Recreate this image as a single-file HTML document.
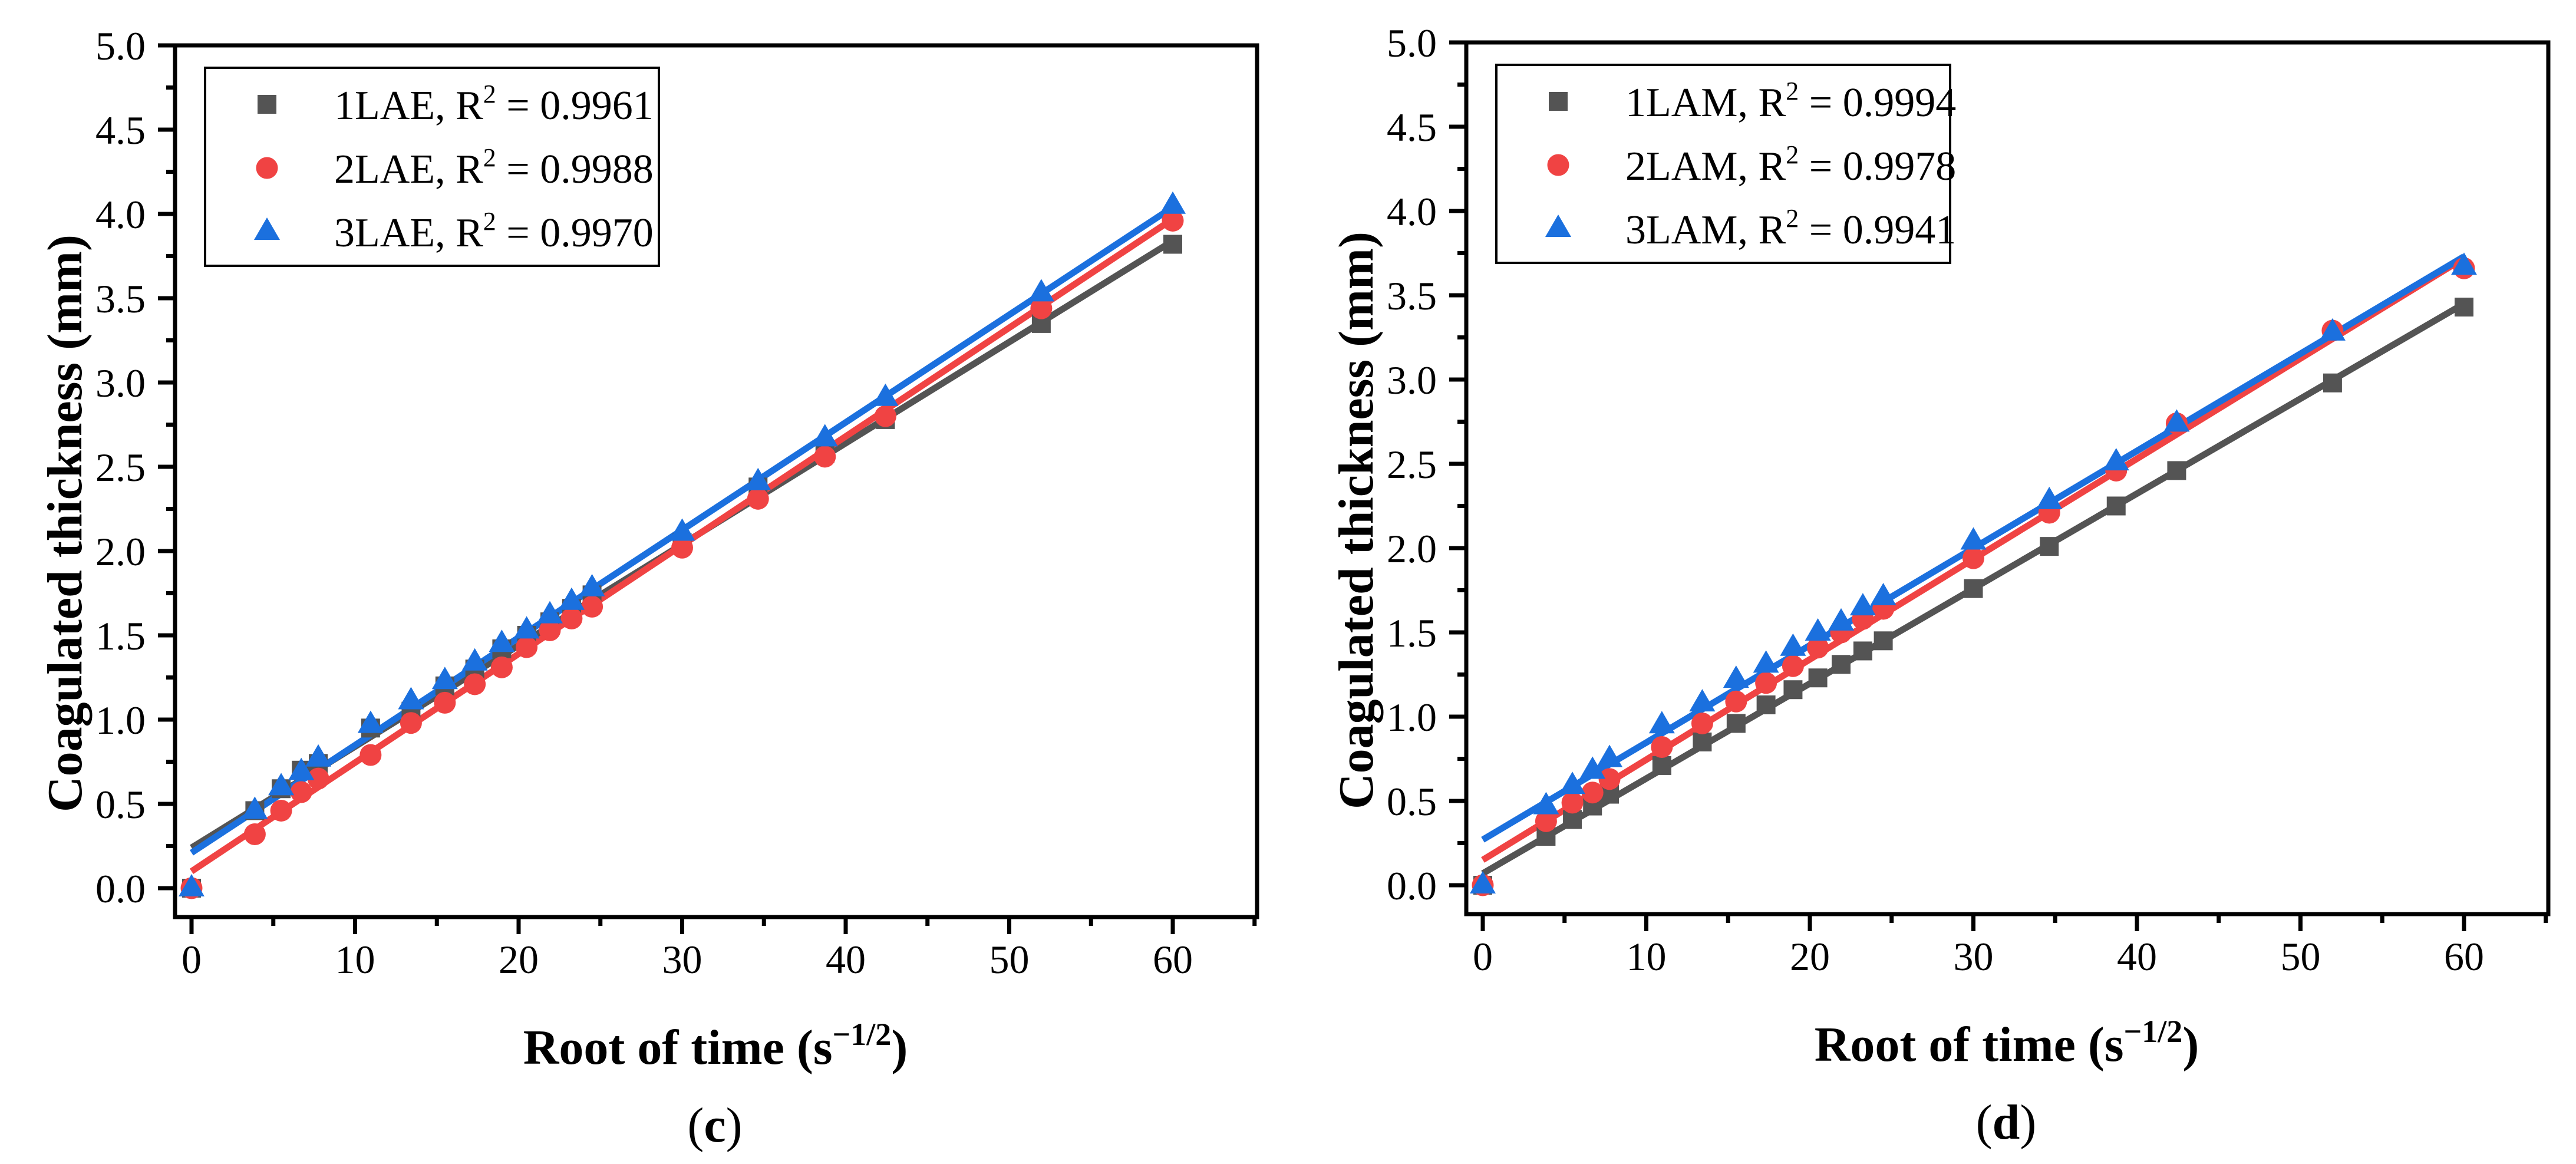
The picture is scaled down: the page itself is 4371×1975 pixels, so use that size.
<!DOCTYPE html>
<html><head><meta charset="utf-8"><style>
html,body{margin:0;padding:0;background:#fff;}
svg{display:block;}
text{font-family:"Liberation Serif",serif;fill:#000;}
</style></head><body>
<svg id="chart" width="4371" height="1975" viewBox="0 0 4371 1975" xmlns="http://www.w3.org/2000/svg"></svg>
<script>
const xValues = [0, 3.87, 5.48, 6.71, 7.75, 10.95, 13.42, 15.49, 17.32, 18.97, 20.49, 21.91, 23.24, 24.49, 30, 34.64, 38.73, 42.43, 51.96, 60];
const c1LAE = [0, 0.46, 0.59, 0.70, 0.74, 0.95, 1.05, 1.20, 1.30, 1.42, 1.50, 1.58, 1.66, 1.74, 2.05, 2.38, 2.58, 2.78, 3.35, 3.82];
const c2LAE = [0, 0.32, 0.46, 0.57, 0.65, 0.79, 0.98, 1.10, 1.21, 1.31, 1.43, 1.53, 1.60, 1.67, 2.02, 2.31, 2.56, 2.80, 3.44, 3.96];
const c3LAE = [0, 0.46, 0.60, 0.69, 0.77, 0.97, 1.11, 1.23, 1.34, 1.45, 1.53, 1.62, 1.70, 1.78, 2.11, 2.41, 2.67, 2.91, 3.53, 4.05];
const d1LAM = [0, 0.29, 0.39, 0.47, 0.54, 0.71, 0.85, 0.96, 1.07, 1.16, 1.23, 1.31, 1.39, 1.45, 1.76, 2.01, 2.25, 2.46, 2.98, 3.43];
const d2LAM = [0, 0.38, 0.49, 0.55, 0.63, 0.82, 0.96, 1.09, 1.20, 1.30, 1.41, 1.50, 1.58, 1.64, 1.94, 2.21, 2.46, 2.74, 3.29, 3.66];
const d3LAM = [0, 0.47, 0.59, 0.68, 0.75, 0.95, 1.08, 1.22, 1.31, 1.41, 1.50, 1.56, 1.65, 1.71, 2.04, 2.28, 2.51, 2.74, 3.28, 3.67];
const fitC = [[0.24, 3.84], [0.10, 3.97], [0.21, 4.04]];
const fitD = [[0.07, 3.45], [0.15, 3.72], [0.27, 3.73]];
const legendC = ["1LAE", "2LAE", "3LAE"];
const legendD = ["1LAM", "2LAM", "3LAM"];
const r2C = ["0.9961", "0.9988", "0.9970"];
const r2D = ["0.9994", "0.9978", "0.9941"];
const xTicks = [0, 10, 20, 30, 40, 50, 60];
const yTicks = ["0.0","0.5","1.0","1.5","2.0","2.5","3.0","3.5","4.0","4.5","5.0"];
const panelLabels = ["(c)", "(d)"];

const NS = "http://www.w3.org/2000/svg";
const svg = document.getElementById("chart");
const colors = ["#545454", "#f04343", "#1b70de"];
function mk(tag, attrs, parent) {
  const e = document.createElementNS(NS, tag);
  for (const k in attrs) e.setAttribute(k, attrs[k]);
  (parent || svg).appendChild(e);
  return e;
}

function drawPanel(dx, dy, series, fits, names, r2s, label, pname) {
  const g = mk("g", {});
  
  
  const X0 = 325 + dx, XS = 27.75;
  const Y0 = 1507 + dy, YS = 286;
  const sx = v => X0 + v * XS;
  const sy = v => Y0 - v * YS;
  const L = 297 + dx, T = 77 + dy, B = 1556 + dy;
  const right = dx ? 4324 : 2133;
  const fr = mk("rect", {x: L, y: T, width: right - L, height: B - T, fill: "none", stroke: "#000", "stroke-width": 7}, g);
  
  
  for (let i = 0; i <= 20; i++) {
    const v = i * 0.25;
    const y = sy(v);
    const major = i % 2 === 0;
    const t = mk("line", {x1: L - (major ? 29 : 15), x2: L, y1: y, y2: y, stroke: "#000", "stroke-width": 7}, g);
    
    
  }
  yTicks.forEach((lab, i) => {
    const t = mk("text", {x: L - 50, y: sy(parseFloat(lab)) + 24, "font-size": 68, "text-anchor": "end"}, g);
    t.textContent = lab;
    
    
  });
  for (let v = 0; v <= 65; v += 5) {
    const major = v % 10 === 0;
    const t = mk("line", {x1: sx(v), x2: sx(v), y1: B, y2: B + (major ? 29 : 15), stroke: "#000", "stroke-width": 7}, g);
    
    
  }
  xTicks.forEach(v => {
    const t = mk("text", {x: sx(v), y: B + 95, "font-size": 68, "text-anchor": "middle"}, g);
    t.textContent = v;
    
    
  });
  fits.forEach((f, i) => {
    const l = mk("line", {x1: sx(0), y1: sy(f[0]), x2: sx(60), y2: sy(f[1]), stroke: colors[i], "stroke-width": 11}, g);
    
    
  });
  function marker(type, cx, cy, col, parent) {
    let m;
    if (type === 0) m = mk("rect", {x: cx - 16, y: cy - 16, width: 32, height: 32, fill: col}, parent);
    else if (type === 1) m = mk("circle", {cx: cx, cy: cy, r: 18.5, fill: col}, parent);
    else m = mk("polygon", {points: (cx) + "," + (cy - 24) + " " + (cx + 22) + "," + (cy + 14) + " " + (cx - 22) + "," + (cy + 14), fill: col}, parent);
    return m;
  }
  series.forEach((s, i) => {
    s.forEach((v, j) => {
      const m = marker(i, sx(xValues[j]), sy(v), colors[i], g);
      
      
    });
  });
  const lg = mk("g", {}, g);
  
  
  mk("rect", {x: 348 + dx, y: 115 + dy, width: 770, height: 336, fill: "#fff", stroke: "#000", "stroke-width": 4}, lg);
  names.forEach((n, i) => {
    const cy = 177 + dy + i * 108;
    const e = mk("g", {}, lg);
    
    
    marker(i, 453 + dx, cy, colors[i], e);
    const t = mk("text", {x: 567 + dx, y: cy + 25, "font-size": 70}, e);
    t.innerHTML = n + ', R<tspan dy="-28" font-size="44">2</tspan><tspan dy="28"> = ' + r2s[i] + '</tspan>';
  });
  const yt = mk("text", {x: 0, y: 0, "font-size": 84, "font-weight": "bold", "text-anchor": "middle", transform: "translate(" + (138 + dx) + "," + (888 + dy) + ") rotate(-90)"}, g);
  yt.textContent = "Coagulated thickness (mm)";
  
  
  const xt = mk("text", {x: 1214 + dx, y: 1805 + dy, "font-size": 84, "font-weight": "bold", "text-anchor": "middle"}, g);
  xt.innerHTML = 'Root of time (s<tspan dy="-32" font-size="54">\u22121/2</tspan><tspan dy="32">)</tspan>';
  
  
  const pl = mk("text", {x: 1213 + dx, y: 1937 + dy, "font-size": 84, "text-anchor": "middle"}, g);
  pl.innerHTML = '(<tspan font-weight="bold">' + label.slice(1, 2) + '</tspan>)';
  
  
}

drawPanel(0, 0, [c1LAE, c2LAE, c3LAE], fitC, legendC, r2C, panelLabels[0], "panel-c");
drawPanel(2191, -5, [d1LAM, d2LAM, d3LAM], fitD, legendD, r2D, panelLabels[1], "panel-d");
</script>
</body></html>
